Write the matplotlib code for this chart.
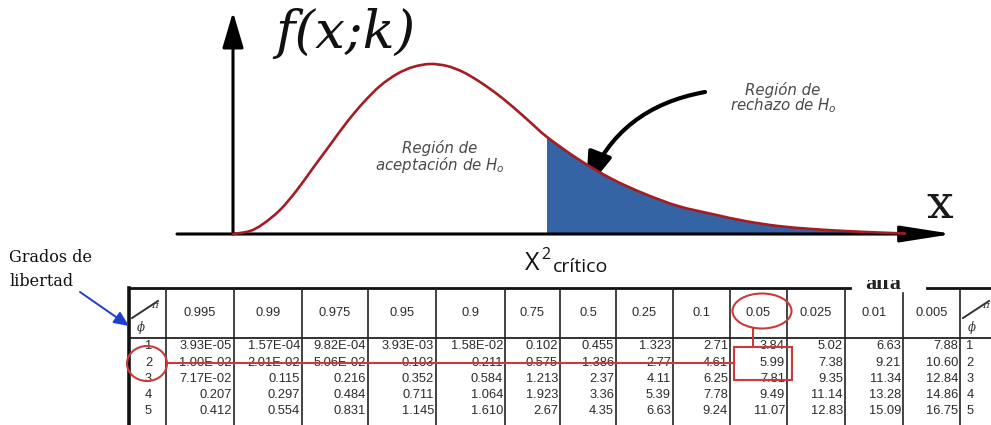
import matplotlib
matplotlib.use("Agg")
import matplotlib.pyplot as plt
from matplotlib.patches import FancyArrowPatch, Ellipse, Rectangle, PathPatch
from matplotlib.path import Path

# ---------------- data ----------------
curve_x = [0, 0.17, 0.30, 0.47, 0.64, 0.80, 0.97, 1.14, 1.30, 1.47, 1.64, 1.80, 1.97,
           2.14, 2.30, 2.47, 2.64, 2.80, 2.97, 3.14, 3.45, 3.79, 4.12, 4.45, 4.79,
           5.12, 5.45, 5.79, 6.12, 6.45, 6.72]
curve_f = [0, 0.03, 0.10, 0.24, 0.44, 0.66, 0.89, 1.12, 1.31, 1.48, 1.60, 1.67, 1.70,
           1.68, 1.62, 1.52, 1.40, 1.27, 1.12, 0.97, 0.75, 0.55, 0.40, 0.28, 0.20,
           0.13, 0.08, 0.05, 0.03, 0.015, 0.005]
x_critico = 3.14

alphas = ["0.995", "0.99", "0.975", "0.95", "0.9", "0.75", "0.5", "0.25", "0.1",
          "0.05", "0.025", "0.01", "0.005"]
dof = ["1", "2", "3", "4", "5"]
row1 = ["3.93E-05", "1.57E-04", "9.82E-04", "3.93E-03", "1.58E-02", "0.102", "0.455",
        "1.323", "2.71", "3.84", "5.02", "6.63", "7.88"]
row2 = ["1.00E-02", "2.01E-02", "5.06E-02", "0.103", "0.211", "0.575", "1.386",
        "2.77", "4.61", "5.99", "7.38", "9.21", "10.60"]
row3 = ["7.17E-02", "0.115", "0.216", "0.352", "0.584", "1.213", "2.37",
        "4.11", "6.25", "7.81", "9.35", "11.34", "12.84"]
row4 = ["0.207", "0.297", "0.484", "0.711", "1.064", "1.923", "3.36",
        "5.39", "7.78", "9.49", "11.14", "13.28", "14.86"]
row5 = ["0.412", "0.554", "0.831", "1.145", "1.610", "2.67", "4.35",
        "6.63", "9.24", "11.07", "12.83", "15.09", "16.75"]
table_rows = [row1, row2, row3, row4, row5]
sel_alpha = "0.05"
sel_dof = "2"


def smooth_path_vertices(xs, ys):
    """Cubic Bezier (Catmull-Rom) vertices/codes passing through the given points."""
    pts = list(zip(xs, ys))
    n = len(pts)
    verts = [pts[0]]
    codes = [Path.MOVETO]
    for i in range(n - 1):
        p0 = pts[i - 1] if i > 0 else pts[i]
        p1 = pts[i]
        p2 = pts[i + 1]
        p3 = pts[i + 2] if i + 2 < n else pts[i + 1]
        c1 = (p1[0] + (p2[0] - p0[0]) / 6, p1[1] + (p2[1] - p0[1]) / 6)
        c2 = (p2[0] - (p3[0] - p1[0]) / 6, p2[1] - (p3[1] - p1[1]) / 6)
        verts += [c1, c2, p2]
        codes += [Path.CURVE4] * 3
    return verts, codes


# ---------------- layout ----------------
W, H = 991, 425
fig = plt.figure(figsize=(W / 100, H / 100), dpi=100)
plt.rcParams['mathtext.fontset'] = 'dejavusans'

ax_t = fig.add_axes([0, 0, 1, 1])
ax_t.set_xlim(0, W)
ax_t.set_ylim(H, 0)
ax_t.axis("off")

ax_c = fig.add_axes([0, 0, 1, 1])
ax_c.set_xlim(-2.33, 7.58)
ax_c.set_ylim(-1.91, 2.34)
ax_c.axis("off")
ax_c.patch.set_alpha(0)

red = "#a61c24"
blue_fill = "#3464a3"

# shaded rejection region
k0 = curve_x.index(x_critico)
fv, fc = smooth_path_vertices(curve_x[k0:], curve_f[k0:])
fv = fv + [(curve_x[-1], 0), (curve_x[k0], 0), fv[0]]
fc = fc + [Path.LINETO, Path.LINETO, Path.CLOSEPOLY]
ax_c.add_patch(PathPatch(Path(fv, fc), fc=blue_fill, ec="none", zorder=2))

# density curve
cv, cc = smooth_path_vertices(curve_x, curve_f)
ax_c.add_patch(PathPatch(Path(cv, cc), fc="none", ec=red, lw=1.9, zorder=4,
                         capstyle="round", joinstyle="round"))

# axes arrows
ax_c.annotate("", xy=(7.20, 0), xytext=(-0.56, 0),
              arrowprops=dict(arrowstyle="-|>,head_length=32,head_width=5",
                              mutation_scale=1, lw=2.2, color="black",
                              shrinkA=0, shrinkB=0), zorder=3)
ax_c.annotate("", xy=(0, 2.22), xytext=(0, 0),
              arrowprops=dict(arrowstyle="-|>,head_length=22,head_width=6.5",
                              mutation_scale=1, lw=2.2, color="black",
                              shrinkA=0, shrinkB=0), zorder=3)

ax_t.text(345, 33, "f(x;k)", family="DejaVu Serif", style="italic",
          fontsize=38, ha="center", va="center", color="#111111")
ax_t.text(940, 205, "x", family="DejaVu Serif", fontsize=34,
          ha="center", va="center", color="#1a1a1a")

gray = "#4a4a4a"
ax_t.text(440, 148, "Región de", family="DejaVu Sans", style="italic",
          fontsize=10.8, ha="center", va="center", color=gray)
ax_t.text(440, 165, "aceptación de $H_o$", family="DejaVu Sans", style="italic",
          fontsize=10.8, ha="center", va="center", color=gray)
ax_t.text(783, 90, "Región de", family="DejaVu Sans", style="italic",
          fontsize=10.8, ha="center", va="center", color=gray)
ax_t.text(783, 106, "rechazo de $H_o$", family="DejaVu Sans", style="italic",
          fontsize=10.8, ha="center", va="center", color=gray)

# curved black arrow
arr = FancyArrowPatch((705, 92), (586, 190), connectionstyle="arc3,rad=0.28",
                      arrowstyle="-|>,head_length=23,head_width=7.5",
                      mutation_scale=1, lw=3, color="black", zorder=6,
                      shrinkA=0, shrinkB=0)
ax_t.add_patch(arr)

# chi^2 critico
ax_t.text(525, 270, "Χ", family="Open Sans", fontsize=18, ha="left",
          va="baseline", color="#111111")
ax_t.text(541, 259, "2", family="Open Sans", fontsize=11.5, ha="left",
          va="baseline", color="#111111")
ax_t.text(553, 272, "crítico", family="Open Sans", fontsize=14, ha="left",
          va="baseline", color="#111111")

# Grados de libertad
ax_t.text(9, 258, "Grados de", family="DejaVu Serif", fontsize=11.5,
          ha="left", va="center", color="#111111")
ax_t.text(9, 281, "libertad", family="DejaVu Serif", fontsize=11.5,
          ha="left", va="center", color="#111111")
ax_t.add_patch(FancyArrowPatch((80, 292), (129, 326),
                               arrowstyle="-|>,head_length=9,head_width=4",
                               mutation_scale=1, lw=1.4, color="#1e3ed0",
                               shrinkA=0, shrinkB=0, zorder=6))

# ---------------- table ----------------
edges = [129, 166, 234, 302, 368, 436, 505, 560, 616, 673, 730, 787, 845, 903, 960, 1000]
top_y, head_bot = 288, 338
row_y = [346, 362.5, 379, 395, 411]
head_y = 313
txt = "#2b2b2b"
fsz = 9.3

ax_t.plot([129, 850], [top_y, top_y], color="#111111", lw=2.0)
ax_t.plot([927, 1000], [top_y, top_y], color="#111111", lw=2.0)
ax_t.plot([129, 1000], [head_bot, head_bot], color="#222222", lw=1.3)
ax_t.plot([129, 129], [top_y, H], color="#111111", lw=2.6)
for e in edges[1:-1]:
    y0 = 293 if e == 903 else top_y
    ax_t.plot([e, e], [y0, H], color="#222222", lw=1.2)

# partially hidden "alfa" (only its lower part shows in the original)
ax_t.text(883, 289, "alfa", family="Liberation Serif", weight="bold",
          fontsize=16, ha="center", va="baseline", color="#222222", zorder=1)
ax_t.add_patch(Rectangle((850, 255), 77, 25, fc="white", ec="none", zorder=1.5))

# header
for j, a in enumerate(alphas):
    cx = (edges[j + 1] + edges[j + 2]) / 2
    ax_t.text(cx, head_y, a, family="Liberation Sans", fontsize=fsz,
              ha="center", va="center", color=txt)

# pi / phi symbols
for x0 in [edges[0], edges[-2]]:
    ax_t.plot([x0 + 3, x0 + 29], [318, 301], color="#333333", lw=1.4)
    ax_t.text(x0 + 26, 305, "π", family="DejaVu Serif", style="italic",
              fontsize=7.5, ha="center", va="center", color="#333333")
    ax_t.text(x0 + 12, 327, "ϕ", family="DejaVu Serif", style="italic",
              fontsize=8.5, ha="center", va="center", color="#333333")

# body
for r, (d, vals) in enumerate(zip(dof, table_rows)):
    y = row_y[r]
    ax_t.text((edges[0] + edges[1]) / 2 + 1, y, d, family="Liberation Sans",
              fontsize=fsz, ha="center", va="center", color=txt)
    ax_t.text(970, y, d, family="Liberation Sans",
              fontsize=fsz, ha="center", va="center", color=txt)
    for j, v in enumerate(vals):
        ax_t.text(edges[j + 2] - 2, y, v, family="Liberation Sans",
                  fontsize=fsz, ha="right", va="center", color=txt)

# red annotations
rc = "#cc3b3b"
rsel = dof.index(sel_dof)
ax_t.add_patch(Ellipse((147, row_y[rsel] + 1), 40, 35, fill=False, ec=rc, lw=1.5, zorder=7))
ax_t.add_patch(Ellipse((762, head_y - 2), 59, 35, fill=False, ec=rc, lw=1.5, zorder=7))
ax_t.plot([167, 734], [row_y[rsel], row_y[rsel]], color=rc, lw=1.5, zorder=7)
ax_t.plot([753, 753], [328, 347], color=rc, lw=1.5, zorder=7)
ax_t.add_patch(Rectangle((734, 347), 58, 33, fill=False, ec=rc, lw=1.5, zorder=7))

fig.savefig("out.png", dpi=100)
